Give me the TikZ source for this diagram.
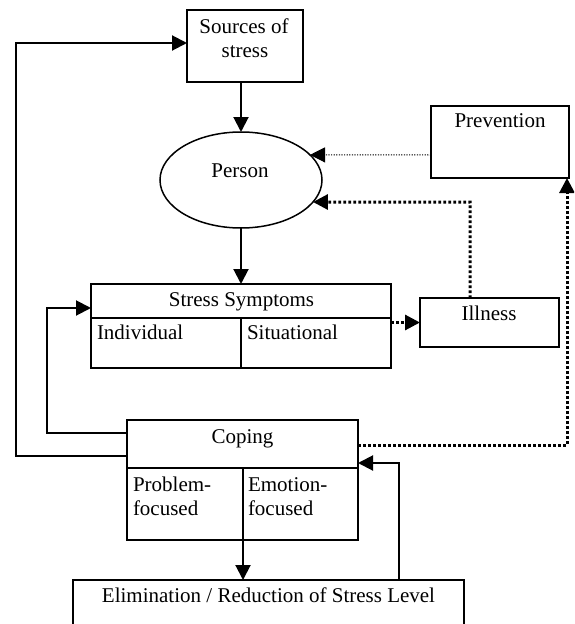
\documentclass[tikz,border=0pt]{standalone}
\usepackage{fontspec}
\setmainfont{Liberation Serif}
\usetikzlibrary{arrows.meta,shapes.geometric}
\begin{document}
\begin{tikzpicture}[x=1pt,y=-1pt,
  box/.style={draw,line width=1.7pt,inner sep=0pt,outer sep=0pt,anchor=north west},
  txt/.style={inner sep=0pt,outer sep=0pt,font=\fontsize{21}{24}\selectfont,anchor=base},
  ltxt/.style={txt,anchor=base west},
  tip/.style={-{Triangle[length=15pt,width=15pt]}},
  arr/.style={line width=2pt,tip},
  dots/.style={line width=3pt,dash pattern=on 2.6pt off 2.4pt,tip},
  dotsthin/.style={line width=2.2pt,dash pattern=on 2.2pt off 2.2pt,tip},
  fine/.style={line width=1pt,dash pattern=on 1.2pt off 1.4pt,tip}]
\useasboundingbox (0,0) rectangle (574,624);
\clip (0,0) rectangle (574,624);

% boxes
\node[box,minimum width=116pt,minimum height=72pt] (src) at (187,10) {};
\node[draw,ellipse,line width=1.5pt,minimum width=162pt,minimum height=96pt,inner sep=0pt,outer sep=0pt] (per) at (241,180) {};
\node[box,minimum width=138pt,minimum height=72pt] (prev) at (431,106) {};
\node[box,minimum width=300pt,minimum height=84pt] (ss) at (91,284) {};
\node[box,minimum width=139pt,minimum height=49pt] (ill) at (420,298) {};
\node[box,minimum width=231pt,minimum height=120pt] (cop) at (127,420) {};
\node[box,minimum width=391pt,minimum height=70pt] (elim) at (73,580) {};

% dividers
\draw[line width=1.7pt] (91,318) -- (391,318);
\draw[line width=1.7pt] (241,318) -- (241,368);
\draw[line width=1.7pt] (127,468) -- (358,468);
\draw[line width=1.7pt] (243,468) -- (243,540);

% texts
\node[txt] (t1) at (244,33) {Sources of};
\node[txt] (t2) at (245,57) {stress};
\node[txt] (t3) at (240,177) {Person};
\node[txt] (t4) at (500,127) {Prevention};
\node[txt] (t5) at (241.5,306) {Stress Symptoms};
\node[ltxt] (t6) at (97,339) {Individual};
\node[ltxt] (t7) at (247,339) {Situational};
\node[txt] (t8) at (489,320) {Illness};
\node[txt] (t9) at (242.5,443) {Coping};
\node[ltxt] (t10) at (133,491) {Problem-};
\node[ltxt] (t11) at (133,515) {focused};
\node[ltxt] (t12) at (248,491) {Emotion-};
\node[ltxt] (t13) at (248,515) {focused};
\node[txt] (t14) at (268.5,602) {Elimination / Reduction of Stress Level};

% helper coordinates
\coordinate (l1) at (16,456);
\coordinate (l2) at (16,43);
\coordinate (c1) at (47,433);
\coordinate (c2) at (47,308);
\coordinate (p1) at (431,155);
\coordinate (i1) at (470,202);
\coordinate (k1) at (567,445);
\coordinate (e1) at (399,463);

% connectors
\draw[arr] (l1 -| cop.west) -- (l1) -- (l2) -- (l2 -| src.west);
\draw[arr] (c1 -| cop.west) -- (c1) -- (c2) -- (c2 -| ss.west);
\draw[arr] (src.south -| per.north) -- (per.north);
\draw[arr] (per.south) -- (ss.north -| per.south);
\draw[fine] (p1) -- (per.20);
\draw[dots] (i1 |- ill.north) -- (i1) -- (per.-17);
\draw[dots] (ill.west -| ss.east) -- (ill.west);
\draw[dots] (k1 -| cop.east) -- (k1) -- (k1 |- prev.south);
\draw[arr] (243,540) -- (243,580);
\draw[arr] (e1 |- elim.north) -- (e1) -- (e1 -| cop.east);
\end{tikzpicture}
\end{document}
